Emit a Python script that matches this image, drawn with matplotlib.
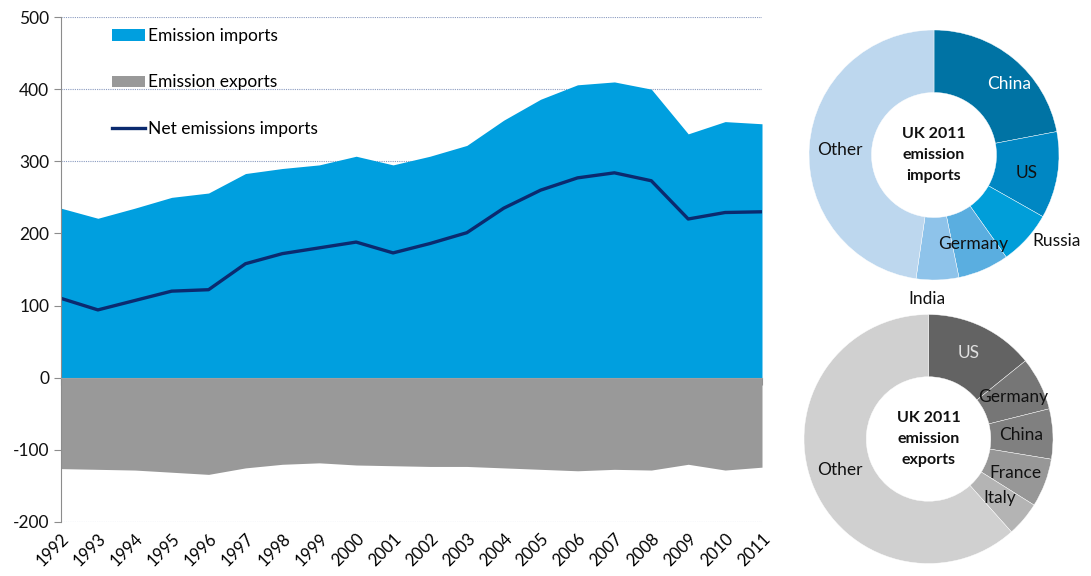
import matplotlib
matplotlib.use("Agg")
import matplotlib.pyplot as plt

plt.rcParams["font.family"] = ["Lato", "DejaVu Sans"]
plt.rcParams["axes.unicode_minus"] = False

years = list(range(1992, 2012))
imports = [235, 221, 235, 250, 256, 283, 290, 295, 307, 295,
           307, 322, 357, 386, 406, 410, 400, 338, 355, 352]
exports = [-126, -127, -128, -131, -134, -125, -120, -118, -121, -122,
           -123, -123, -125, -127, -129, -127, -128, -120, -128, -124]
net = [110, 94, 107, 120, 122, 158, 172, 180, 188, 173,
       186, 201, 235, 260, 277, 284, 273, 220, 229, 230]

imp_labels = ["China", "US", "Russia", "Germany", "India", "Other"]
imp_shares = [22.0, 11.2, 7.0, 6.6, 5.5, 47.7]
exp_labels = ["US", "Germany", "China", "France", "Italy", "Other"]
exp_shares = [14.2, 6.9, 6.5, 6.3, 4.5, 61.6]

W, H = 1091, 576
fig = plt.figure(figsize=(W / 100, H / 100), dpi=100)

# main area chart
ax = fig.add_axes([61 / W, 1 - 522 / H, 701 / W, 505 / H])
ax.fill_between(years, imports, 0, color="#009fdf", linewidth=0, label="Emission imports")
ax.fill_between(years, exports, 0, color="#999999", linewidth=0, label="Emission exports")
ax.plot(years, net, color="#0b2a6f", linewidth=2.4, label="Net emissions imports")

ax.set_xlim(1992, 2011)
ax.set_ylim(-200, 500)
ax.set_yticks(range(-200, 501, 100))
ax.set_axisbelow(True)
ax.grid(axis="y", linestyle=(0, (1, 1)), color="#8a9bc0", linewidth=0.8)
for s in ("top", "right"):
    ax.spines[s].set_visible(False)
ax.spines["left"].set_color("#8c8c8c")
ax.spines["bottom"].set_position(("data", 0))
ax.spines["bottom"].set_color("#a0a0a0")
ax.set_xticks(years)
ax.tick_params(axis="x", length=5, color="#8c8c8c", labelbottom=False, direction="out")
ax.tick_params(axis="y", length=5, color="#8c8c8c", labelsize=12.5, labelcolor="#111111")

sec = ax.secondary_xaxis("bottom")
sec.set_xticks(years)
sec.set_xticklabels([str(y) for y in years], rotation=45, ha="right",
                    rotation_mode="anchor", fontsize=12)
sec.tick_params(length=0, pad=6)
sec.spines["bottom"].set_visible(False)

ax.legend(loc="upper left", bbox_to_anchor=(0.073, 0.978), frameon=False,
          fontsize=12.5, handlelength=1.9, handleheight=0.62, handletextpad=0.15,
          labelspacing=1.74, borderpad=0, borderaxespad=0)


def donut(cx, cy, r, shares, colors, labels, label_pos, label_colors, centre):
    a = fig.add_axes([(cx - r) / W, 1 - (cy + r) / H, 2 * r / W, 2 * r / H])
    a.pie(shares, colors=colors, startangle=90, counterclock=False, radius=1,
          wedgeprops=dict(width=0.5, edgecolor="white", linewidth=0.3))
    a.set_xlim(-1, 1)
    a.set_ylim(-1, 1)
    a.set_aspect("equal")
    a.axis("off")
    for lab, (x, y), c in zip(labels, label_pos, label_colors):
        a.text(x, y, lab, ha="center", va="center", fontsize=12.5, color=c)
    a.text(0, 0, centre, ha="center", va="center", fontsize=11.5,
           fontweight="bold", linespacing=1.6, color="#111111")


donut(934, 155, 125, imp_shares,
      ["#0073a4", "#0087c3", "#009ed9", "#5aaee0", "#8ec3ea", "#bdd7ee"],
      imp_labels,
      [(0.60, 0.57), (0.74, -0.14), (0.98, -0.69), (0.31, -0.71), (-0.06, -1.15), (-0.75, 0.04)],
      ["white", "#111111", "#111111", "#111111", "#111111", "#111111"],
      "UK 2011\nemission\nimports")

donut(928.5, 439, 124.5, exp_shares,
      ["#636363", "#767676", "#808080", "#979797", "#b4b4b4", "#d0d0d0"],
      exp_labels,
      [(0.32, 0.69), (0.68, 0.34), (0.74, 0.03), (0.70, -0.27), (0.57, -0.47), (-0.71, -0.25)],
      ["#e0e0e0", "#111111", "#111111", "#111111", "#111111", "#111111"],
      "UK 2011\nemission\nexports")

fig.savefig("out.png", dpi=100)
